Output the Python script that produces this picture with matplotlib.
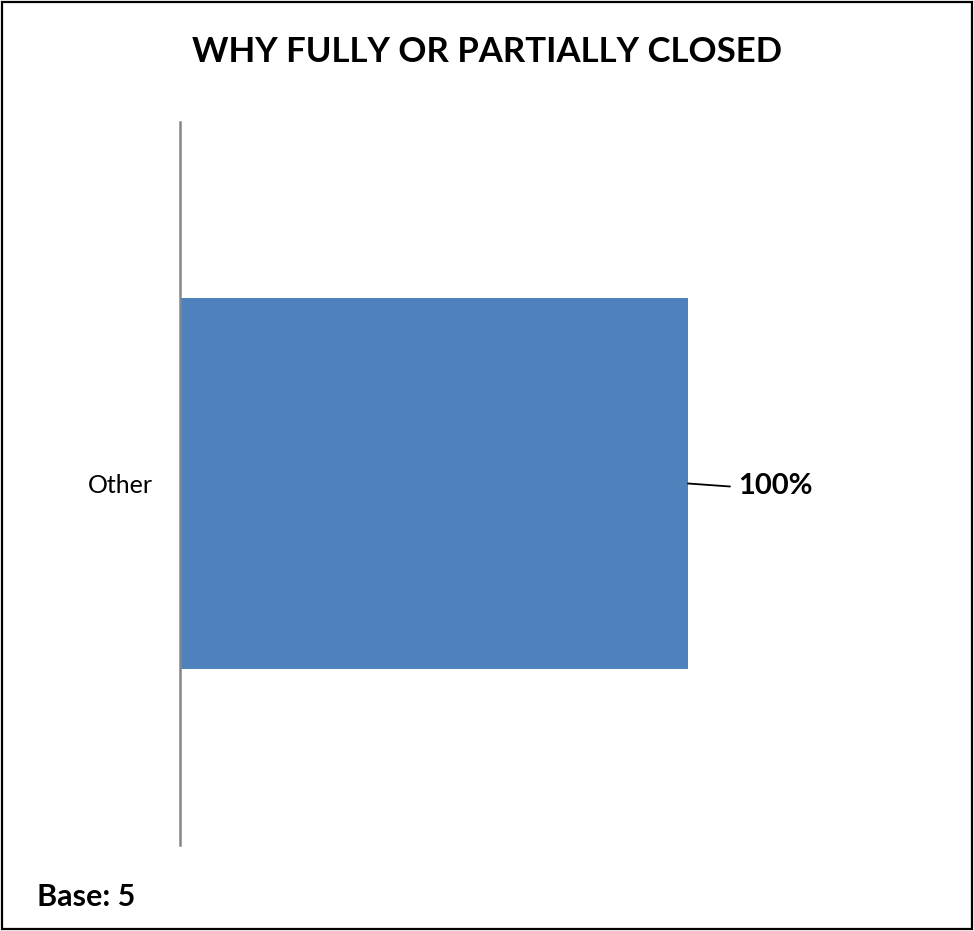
import matplotlib
matplotlib.use("Agg")
import matplotlib.pyplot as plt
from matplotlib.patches import Rectangle

categories = ["Other"]
values = [100]
value_labels = ["100%"]
title = "WHY FULLY OR PARTIALLY CLOSED"
base_note = "Base: 5"

plt.rcParams["font.family"] = ["Lato", "DejaVu Sans"]

W, H = 974, 931
fig = plt.figure(figsize=(W / 100, H / 100), dpi=100)

# outer frame around the whole chart
fig.patches.append(Rectangle((0.002, 0.002), 0.996, 0.996, transform=fig.transFigure,
                             fill=False, edgecolor="black", linewidth=1.6))

ax = fig.add_axes([180 / W, (H - 845) / H, (688 - 180) / W, (845 - 122) / H])
ax.barh(range(len(categories)), values, height=0.513, color="#4F81BD", zorder=2)
ax.set_xlim(0, 100)
ax.set_ylim(-0.5, len(categories) - 0.5)

for s in ("top", "right", "bottom"):
    ax.spines[s].set_visible(False)
ax.spines["left"].set_color("#868686")
ax.spines["left"].set_linewidth(1.8)
ax.set_xticks([])
ax.set_yticks(range(len(categories)))
ax.set_yticklabels(categories, fontsize=18)
ax.tick_params(axis="y", length=0, pad=19.5)

for i, (v, lab) in enumerate(zip(values, value_labels)):
    ax.annotate("", xy=(v, i), xytext=(42, -3), textcoords="offset pixels",
                arrowprops=dict(arrowstyle="-", lw=1.3, color="black",
                                shrinkA=0, shrinkB=0), annotation_clip=False)
    ax.annotate(lab, xy=(v, i), xytext=(50, -3), textcoords="offset pixels",
                ha="left", va="center", fontsize=21, fontweight="bold",
                annotation_clip=False)

fig.text(487 / W, 1 - 52 / H, title, ha="center", va="center",
         fontsize=25, fontweight="bold")
fig.text(37 / W, 1 - 897 / H, base_note, ha="left", va="center",
         fontsize=22, fontweight="bold")

fig.savefig("out.png", dpi=100)
